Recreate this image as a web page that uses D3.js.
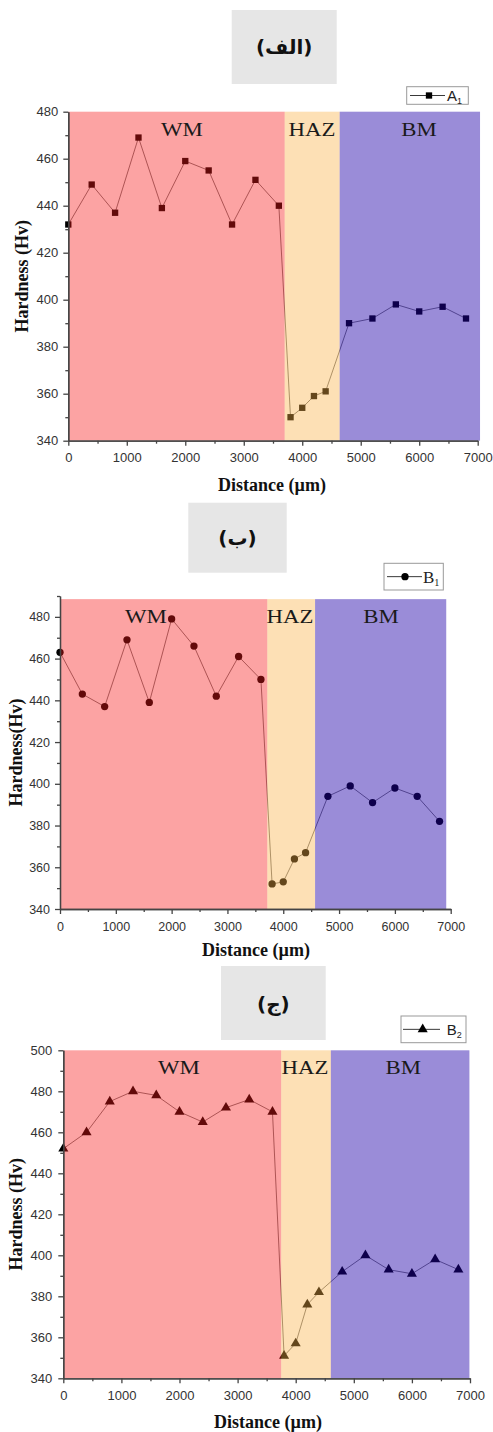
<!DOCTYPE html>
<html>
<head>
<meta charset="utf-8">
<script src="https://cdn.jsdelivr.net/npm/d3@7"></script>
<style>
body { margin: 0; background: #fff; }
</style>
</head>
<body>
<svg id="fig" width="493" height="1432"></svg>
<script>
// indentation positions (µm), same for the three samples
var distance = [0, 400, 800, 1200, 1600, 2000, 2400, 2800, 3200, 3600,
                3800, 4000, 4200, 4400, 4800, 5200, 5600, 6000, 6400, 6800];

// hardness
var hardnessA1 = [432, 449, 437, 469, 439, 459, 455, 432, 451, 440,
                  350, 354, 359, 361, 390, 392, 398, 395, 397, 392];
var hardnessB1 = [463, 443, 437, 469, 439, 479, 466, 442, 461, 450,
                  352, 353, 364, 367, 394, 399, 391, 398, 394, 382];
var hardnessB2 = [452, 460, 475, 480, 478, 470, 465, 472, 476, 470,
                  351, 357, 376, 382, 392, 400, 393, 391, 398, 393];

// zone limits (µm) and names
var zoneNames = ["WM", "HAZ", "BM"];
var zonesA1 = [0, 3700, 4640, 7040];
var zonesB1 = [0, 3715, 4570, 6920];
var zonesB2 = [0, 3750, 4605, 6990];

// tick labels
var xTicks = [0, 1000, 2000, 3000, 4000, 5000, 6000, 7000];
var xMinor = [500, 1500, 2500, 3500, 4500, 5500, 6500];
var yTicksA1 = [340, 360, 380, 400, 420, 440, 460, 480];
var yMinorA1 = [350, 370, 390, 410, 430, 450, 470];
var yTicksB1 = [340, 360, 380, 400, 420, 440, 460, 480];
var yMinorB1 = [350, 370, 390, 410, 430, 450, 470, 490];
var yTicksB2 = [340, 360, 380, 400, 420, 440, 460, 480, 500];
var yMinorB2 = [350, 370, 390, 410, 430, 450, 470, 490];

// zone tint: black data under a translucent colour gives the dark markers
var zoneFill = ["rgb(247,25,25)", "rgb(250,177,70)", "rgb(31,0,169)"];
var zoneAlpha = [0.4, 0.4, 0.45];

var sans = "'Liberation Sans', Arial, sans-serif";
var serif = "'Liberation Serif', 'Times New Roman', serif";

var panels = [
  { title: "(الف)", values: hardnessA1, zones: zonesA1, symbol: d3.symbolSquare, symSize: 40,
    yDomain: [340, 480], shadeTop: 480, yTicks: yTicksA1, yMinor: yMinorA1,
    left: 68.3, right: 477.7, top: 111.7, bottom: 440.7,
    labelAt: [1940, 4165, 5995], tickFont: 13, yPad: 5, xPad: 7,
    box: [231.7, 10, 105, 74], titleY: 54,
    legend: { box: [406.7, 86.7, 61.6, 17.6], line: [410, 445], mark: 429, tx: 447, name: "A", sub: "1", font: sans, size: 15 },
    yTitle: "Hardness (Hv)", yTitleX: 28, xTitleX: 272, xTitleY: 491 },
  { title: "(ب)", values: hardnessB1, zones: zonesB1, symbol: d3.symbolCircle, symSize: 42,
    yDomain: [340, 490], shadeTop: 488.5, yTicks: yTicksB1, yMinor: yMinorB1,
    left: 60, right: 450.7, top: 596, bottom: 909,
    labelAt: [1540, 4120, 5750], tickFont: 12.5, yPad: 5, xPad: 8,
    box: [188.3, 502.7, 98.4, 70], titleY: 545,
    legend: { box: [384, 563.3, 59.3, 26.7], line: [387, 422], mark: 405, tx: 423, name: "B", sub: "1", font: serif, size: 17 },
    yTitle: "Hardness(Hv)", yTitleX: 21.5, xTitleX: 256, xTitleY: 956 },
  { title: "(ج)", values: hardnessB2, zones: zonesB2, symbol: d3.symbolTriangle, symSize: 44,
    yDomain: [340, 500], shadeTop: 500, yTicks: yTicksB2, yMinor: yMinorB2,
    left: 63.3, right: 470, top: 1050.3, bottom: 1378.3,
    labelAt: [1990, 4160, 5850], tickFont: 13, yPad: 6, xPad: 7,
    box: [221, 966, 104.7, 74], titleY: 1011,
    legend: { box: [401, 1016, 65, 26.7], line: [403, 440], mark: 422.7, tx: 446.7, name: "B", sub: "2", font: sans, size: 15 },
    yTitle: "Hardness (Hv)", yTitleX: 22, xTitleX: 268, xTitleY: 1428 }
];

var svg = d3.select("#fig");
panels.forEach(drawPanel);

function drawPanel(p) {
  var x = d3.scaleLinear().domain([0, 7000]).range([p.left, p.right]);
  var y = d3.scaleLinear().domain(p.yDomain).range([p.bottom, p.top]);
  var g = svg.append("g");

  // grey title box
  g.append("rect")
    .attr("x", p.box[0]).attr("y", p.box[1])
    .attr("width", p.box[2]).attr("height", p.box[3])
    .attr("fill", "#e6e6e6");
  g.append("text")
    .attr("x", p.box[0] + p.box[2] / 2).attr("y", p.titleY)
    .attr("text-anchor", "middle")
    .style("font-family", "'DejaVu Sans', sans-serif")
    .style("font-weight", "bold").style("font-size", "20px")
    .attr("fill", "#111")
    .text(p.title);

  // data line + markers in black
  var line = d3.line()
    .x(function(d, i) { return x(distance[i]); })
    .y(function(d) { return y(d); });
  g.append("path")
    .datum(p.values)
    .attr("d", line)
    .attr("fill", "none")
    .attr("stroke", "#000")
    .attr("stroke-opacity", 0.65)
    .attr("stroke-width", 0.8);
  g.selectAll(".pt")
    .data(p.values)
    .join("path")
    .attr("class", "pt")
    .attr("transform", function(d, i) { return "translate(" + x(distance[i]) + "," + y(d) + ")"; })
    .attr("d", d3.symbol().type(p.symbol).size(p.symSize))
    .attr("fill", "#000");

  // zone overlays
  zoneNames.forEach(function(name, k) {
    g.append("rect")
      .attr("x", x(p.zones[k]))
      .attr("width", x(p.zones[k + 1]) - x(p.zones[k]))
      .attr("y", y(p.shadeTop))
      .attr("height", y(p.yDomain[0]) - y(p.shadeTop))
      .attr("fill", zoneFill[k])
      .attr("fill-opacity", zoneAlpha[k]);
    var lx = x(p.labelAt[k]), ly = y(p.shadeTop) + 24;
    g.append("text")
      .attr("transform", "translate(" + lx + "," + ly + ") scale(1.2,1)")
      .attr("text-anchor", "middle")
      .style("font-family", serif).style("font-size", "19px")
      .attr("fill", "#1a1a1a")
      .text(name);
  });

  // axes
  var fmt = d3.format("d");
  var ax = g.append("g").attr("transform", "translate(0," + p.bottom + ")")
    .call(d3.axisBottom(x).tickValues(xTicks).tickFormat(fmt).tickSize(5).tickSizeOuter(0).tickPadding(p.xPad));
  var axm = g.append("g").attr("transform", "translate(0," + p.bottom + ")")
    .call(d3.axisBottom(x).tickValues(xMinor).tickSize(3).tickSizeOuter(0).tickFormat(""));
  var ay = g.append("g").attr("transform", "translate(" + p.left + ",0)")
    .call(d3.axisLeft(y).tickValues(p.yTicks).tickFormat(fmt).tickSize(5).tickSizeOuter(0).tickPadding(p.yPad));
  var aym = g.append("g").attr("transform", "translate(" + p.left + ",0)")
    .call(d3.axisLeft(y).tickValues(p.yMinor).tickSize(3).tickSizeOuter(0).tickFormat(""));
  [ax, axm, ay, aym].forEach(function(a) {
    a.selectAll("path, line").attr("stroke", "#444").attr("stroke-width", 1.3);
    a.selectAll("text")
      .style("font-family", sans).style("font-size", p.tickFont + "px")
      .attr("fill", "#333");
  });

  // axis titles
  g.append("text")
    .attr("x", p.xTitleX).attr("y", p.xTitleY)
    .attr("text-anchor", "middle")
    .style("font-family", serif).style("font-weight", "bold").style("font-size", "18px")
    .attr("fill", "#111")
    .text("Distance (µm)");
  g.append("text")
    .attr("transform", "translate(" + p.yTitleX + "," + (p.top + p.bottom) / 2 + ") rotate(-90)")
    .attr("text-anchor", "middle")
    .style("font-family", serif).style("font-weight", "bold").style("font-size", "18px")
    .attr("fill", "#111")
    .text(p.yTitle);

  // legend
  var L = p.legend, cy = L.box[1] + L.box[3] / 2;
  g.append("rect")
    .attr("x", L.box[0]).attr("y", L.box[1])
    .attr("width", L.box[2]).attr("height", L.box[3])
    .attr("fill", "#fff").attr("stroke", "#999").attr("stroke-width", 1);
  g.append("line")
    .attr("x1", L.line[0]).attr("x2", L.line[1])
    .attr("y1", cy).attr("y2", cy)
    .attr("stroke", "#222").attr("stroke-width", 0.9);
  g.append("path")
    .attr("transform", "translate(" + L.mark + "," + cy + ")")
    .attr("d", d3.symbol().type(p.symbol).size(p.symSize))
    .attr("fill", "#000");
  var lt = g.append("text")
    .attr("x", L.tx).attr("y", cy + L.size * 0.36)
    .style("font-family", L.font).style("font-size", L.size + "px")
    .attr("fill", "#222")
    .text(L.name);
  lt.append("tspan")
    .attr("dy", 3).style("font-size", (L.size * 0.6) + "px")
    .text(L.sub);
}
</script>
</body>
</html>
